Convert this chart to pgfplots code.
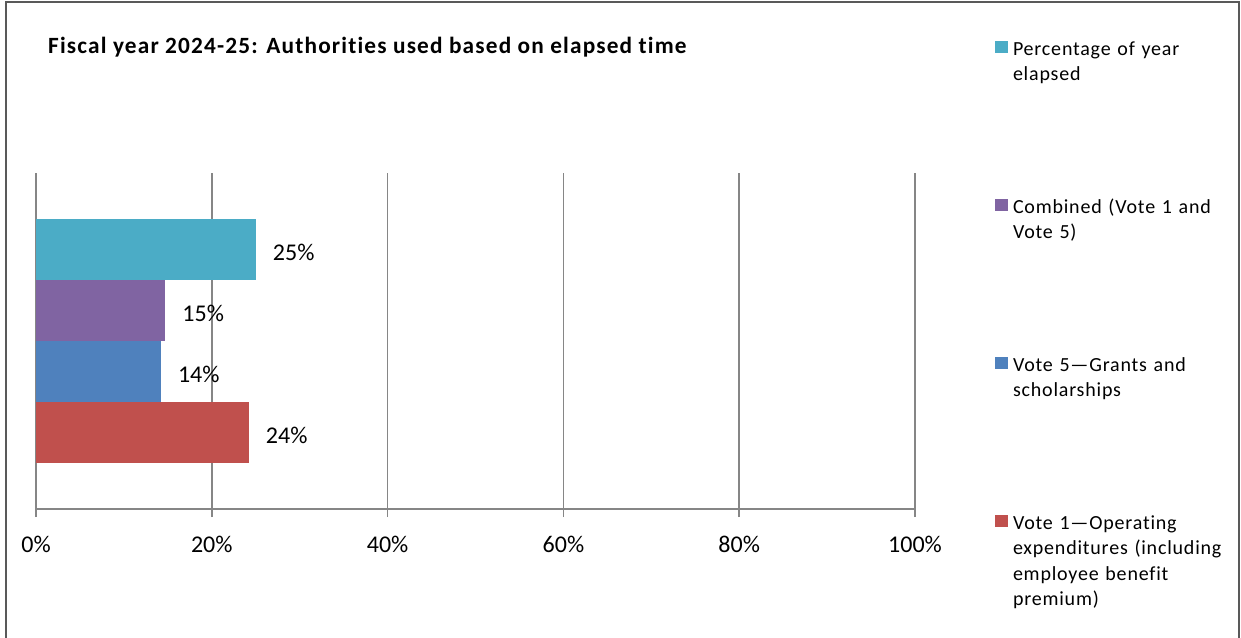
\documentclass[border=0pt]{standalone}
\usepackage{pgfplots}
\pgfplotsset{compat=1.18}
\usepackage{fontspec}
\setmainfont{Carlito}[Ligatures=NoCommon]
\newfontfamily\legfont[LetterSpace=4,Ligatures=NoCommon]{Carlito}
\newfontfamily\titlefont[LetterSpace=5,Ligatures=NoCommon]{Carlito}
\definecolor{cCyan}{HTML}{4BACC6}
\definecolor{cPurple}{HTML}{8064A2}
\definecolor{cBlue}{HTML}{4F81BD}
\definecolor{cRed}{HTML}{C0504D}
\definecolor{gridc}{HTML}{868686}
\definecolor{framec}{HTML}{595959}
\begin{document}
\begin{tikzpicture}[x=1pt,y=1pt]
\useasboundingbox (0,0) rectangle (1241,-637);
\draw[framec, line width=2pt] (6,-645) -- (6,-2) -- (1239,-2) -- (1239,-645);
\node[anchor=base west, inner sep=0pt, font=\titlefont\fontsize{23.3}{27}\selectfont\bfseries] at (48,-53) {Fiscal year 2024-25: Authorities used based on elapsed time};
\begin{axis}[
  at={(36pt,-509pt)}, anchor=south west,
  scale only axis, width=879pt, height=336pt,
  xmin=0, xmax=100, ymin=-1, ymax=1,
  xtick={0,20,40,60,80,100},
  xticklabel={\pgfmathprintnumber{\tick}\%},
  ytick=\empty,
  axis lines*=left,
  axis line style={gridc, line width=1.5pt},
  xmajorgrids, grid style={gridc, line width=1.5pt},
  tick align=outside, major tick length=8pt,
  tick style={gridc, line width=1.5pt},
  xticklabel style={font=\fontsize{24}{28}\selectfont, text=black, yshift=-16pt},
  /pgf/number format/assume math mode=true,
  xbar, bar width=61pt,
  point meta=x,
  nodes near coords={\pgfmathprintnumber[fixed,precision=0]{\pgfplotspointmeta}\%},
  nodes near coords style={anchor=west, inner sep=0pt, xshift=17pt, yshift=-3pt, font=\fontsize{24}{28}\selectfont, text=black},
  legend image code/.code={\fill[#1] (0pt,2pt) rectangle (13pt,14pt);},
  legend style={at={(axis description cs:1.0910,1.3958)}, anchor=north west,
    draw=none, fill=none, inner sep=0pt, outer sep=0pt, row sep=0pt, column sep=5pt,
    font=\legfont\fontsize{20}{25.5}\selectfont,
    cells={anchor=base west},
    nodes={inner sep=0pt, text width=230pt, align=left, text height=15pt, text depth=143pt}},
]
\addplot[fill=cCyan, draw=none, bar shift=91.5pt] coordinates {(25.0,0)};
\addlegendentry{Percentage of year\\elapsed}
\addplot[fill=cPurple, draw=none, bar shift=30.5pt] coordinates {(14.7,0)};
\addlegendentry{Combined (Vote 1 and\\Vote 5)}
\addplot[fill=cBlue, draw=none, bar shift=-30.5pt] coordinates {(14.2,0)};
\addlegendentry{Vote 5—Grants and\\scholarships}
\addplot[fill=cRed, draw=none, bar shift=-91.5pt] coordinates {(24.2,0)};
\addlegendentry{Vote 1—Operating\\expenditures (including\\employee benefit\\premium)}
\end{axis}
\end{tikzpicture}
\end{document}
